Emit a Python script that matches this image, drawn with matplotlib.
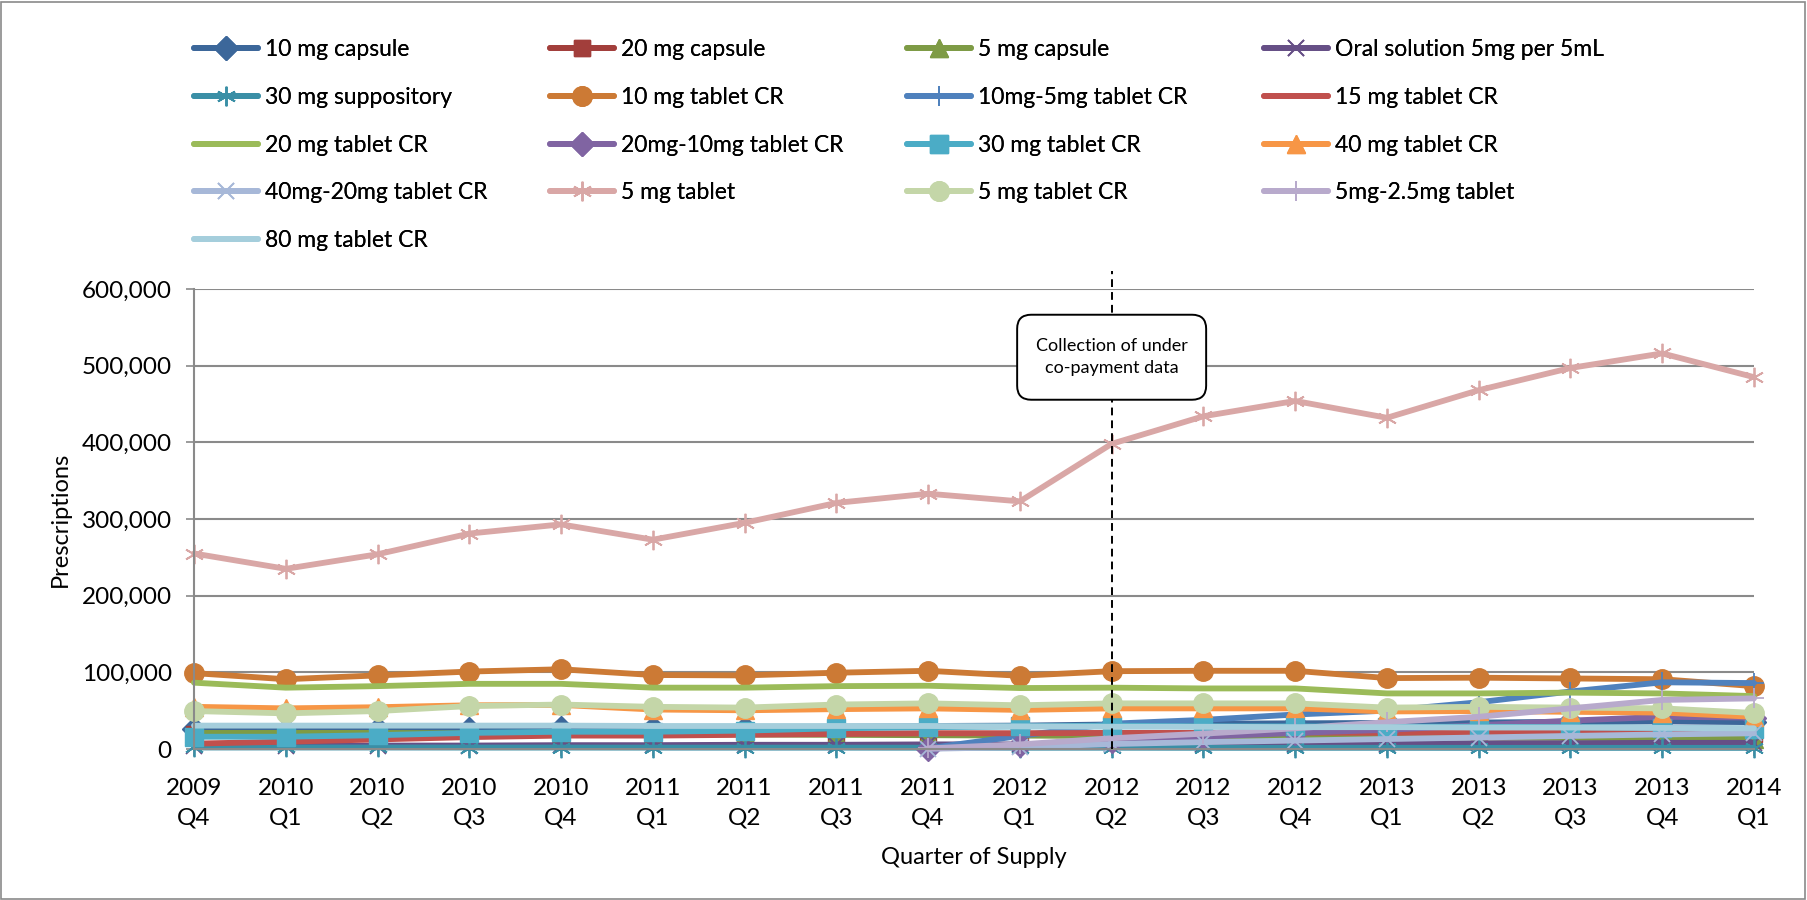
import numpy as np
import matplotlib
matplotlib.use("Agg")
import matplotlib.pyplot as plt
from matplotlib.lines import Line2D
from matplotlib.patches import FancyBboxPatch, Rectangle
from matplotlib.transforms import IdentityTransform
from matplotlib.ticker import FuncFormatter, MultipleLocator

plt.rcParams["font.family"] = ["Lato", "DejaVu Sans"]

nan = np.nan

quarters = ["2009\nQ4", "2010\nQ1", "2010\nQ2", "2010\nQ3", "2010\nQ4",
            "2011\nQ1", "2011\nQ2", "2011\nQ3", "2011\nQ4",
            "2012\nQ1", "2012\nQ2", "2012\nQ3", "2012\nQ4",
            "2013\nQ1", "2013\nQ2", "2013\nQ3", "2013\nQ4", "2014\nQ1"]

ten_mg_capsule = [26000, 25000, 25500, 26500, 27500, 27500, 28000, 29000, 30000,
                  30500, 32000, 33000, 33500, 34000, 34500, 35500, 36000, 35000]
twenty_mg_capsule = [19000, 18500, 19000, 19500, 19500, 19500, 20000, 20000, 20000,
                     20000, 20500, 20500, 20500, 20000, 20000, 20000, 20000, 19500]
five_mg_capsule = [21000, 21000, 21000, 20500, 20000, 19500, 19000, 18500, 18000,
                   17500, 17000, 16500, 16000, 15500, 15000, 14500, 14000, 13500]
oral_solution = [4000, 4000, 4500, 4500, 5000, 5000, 5500, 5500, 6000,
                 6000, 6500, 6500, 7000, 7000, 7500, 7500, 8000, 8000]
suppository_30mg = [2000, 2000, 2000, 1900, 1900, 1800, 1800, 1800, 1700,
                    1700, 1700, 1600, 1600, 1600, 1500, 1500, 1500, 1500]
ten_mg_tablet_cr = [99000, 91000, 96000, 101000, 104000, 96500, 96000, 99500, 102000,
                    95500, 101500, 102000, 102000, 92500, 93000, 92000, 91000, 82000]
ten_five_tablet_cr = [nan, nan, nan, nan, nan, nan, nan, nan, 1000,
                      17000, 33000, 38000, 45000, 50000, 61000, 75000, 87000, 86000]
fifteen_mg_tablet_cr = [7000, 9500, 12500, 15500, 17500, 17500, 18500, 19500, 20500,
                        20500, 21000, 21000, 21500, 21000, 21500, 22000, 22000, 21500]
twenty_mg_tablet_cr = [86500, 80000, 82000, 85000, 85000, 80000, 80000, 82000, 82500,
                       79500, 80000, 79000, 79000, 72500, 72500, 73500, 72500, 69000]
twenty_ten_tablet_cr = [nan, nan, nan, nan, nan, nan, nan, nan, 500,
                        5000, 11000, 16000, 21000, 25000, 31000, 37000, 42000, 41000]
thirty_mg_tablet_cr = [16000, 16000, 18000, 21000, 22500, 22500, 24000, 27000, 28500,
                       29500, 30500, 29500, 29500, 29000, 29000, 28500, 27500, 26500]
forty_mg_tablet_cr = [55000, 53000, 54500, 57000, 57500, 51500, 50500, 52000, 53000,
                      51000, 53000, 53000, 53000, 49000, 49500, 48500, 47500, 42000]
forty_twenty_tablet_cr = [nan, nan, nan, nan, nan, nan, nan, nan, 300,
                          2500, 6500, 9000, 11000, 13000, 15000, 17000, 19000, 20500]
five_mg_tablet = [255000, 235000, 254000, 281000, 293000, 273000, 295000, 321000, 333000,
                  323000, 398000, 434000, 454000, 432000, 468000, 497000, 516000, 485000]
five_mg_tablet_cr = [49500, 46500, 49500, 56000, 58000, 55000, 54000, 58000, 59500,
                     57000, 59500, 59500, 59500, 54000, 55000, 54000, 53000, 47000]
five_two_tablet = [nan, nan, nan, nan, nan, nan, nan, nan, 800,
                   6000, 14000, 20000, 27000, 35000, 42000, 53000, 64000, 66000]
eighty_mg_tablet_cr = [30500, 30500, 30500, 30500, 30500, 30000, 30000, 30000, 30000,
                       29500, 29000, 29000, 28500, 28500, 28000, 28000, 27500, 27000]

series_names = ["10 mg capsule", "20 mg capsule", "5 mg capsule", "Oral solution 5mg per 5mL",
                "30 mg suppository", "10 mg tablet CR", "10mg-5mg tablet CR", "15 mg tablet CR",
                "20 mg tablet CR", "20mg-10mg tablet CR", "30 mg tablet CR", "40 mg tablet CR",
                "40mg-20mg tablet CR", "5 mg tablet", "5 mg tablet CR", "5mg-2.5mg tablet",
                "80 mg tablet CR"]
series_values = [ten_mg_capsule, twenty_mg_capsule, five_mg_capsule, oral_solution,
                 suppository_30mg, ten_mg_tablet_cr, ten_five_tablet_cr, fifteen_mg_tablet_cr,
                 twenty_mg_tablet_cr, twenty_ten_tablet_cr, thirty_mg_tablet_cr, forty_mg_tablet_cr,
                 forty_twenty_tablet_cr, five_mg_tablet, five_mg_tablet_cr, five_two_tablet,
                 eighty_mg_tablet_cr]

ASTER = (6, 2, 0)
# colour, marker, marker size, marker edge width
styles = [
    ("#3C679A", "D", 12, 1.0),
    ("#A23E3B", "s", 12, 1.0),
    ("#7E9B45", "^", 13, 1.0),
    ("#664F86", "x", 11, 1.3),
    ("#3A8FA6", ASTER, 14, 1.3),
    ("#CC7A35", "o", 14, 1.0),
    ("#4F81BD", "+", 14, 1.3),
    ("#C0504D", None, 0, 0),
    ("#9BBB59", None, 0, 0),
    ("#8064A2", "D", 12, 1.0),
    ("#4BACC6", "s", 13, 1.0),
    ("#F79646", "^", 13, 1.0),
    ("#A7B8D8", "x", 11, 1.3),
    ("#D9A7A6", ASTER, 14, 1.3),
    ("#C4D6A8", "o", 14, 1.0),
    ("#B8AACC", "+", 14, 1.3),
    ("#A5CEDC", None, 0, 0),
]

W, H, DPI = 1807, 900, 100
fig = plt.figure(figsize=(W / DPI, H / DPI), dpi=DPI)
fig.patch.set_facecolor("white")

# plot area in pixels: left/right at first/last category, bottom at 0, top at 600,000
px_left, px_right, px_bottom, px_top = 194, 1754, 749, 289
ax = fig.add_axes([px_left / W, 1 - px_bottom / H,
                   (px_right - px_left) / W, (px_bottom - px_top) / H])

x = np.arange(len(quarters))
LW = 4.2
handles = []
for name, vals, (col, mk, ms, mew) in zip(series_names, series_values, styles):
    kw = dict(color=col, lw=LW, solid_capstyle="round", solid_joinstyle="round")
    if mk is not None:
        kw.update(marker=mk, markersize=ms, markerfacecolor=col,
                  markeredgecolor=col, markeredgewidth=mew)
    ax.plot(x, vals, clip_on=False, **kw)
    handles.append(Line2D([], [], label=name, **kw))

ax.set_xlim(0, len(quarters) - 1)
ax.set_ylim(0, 600000)
ax.yaxis.set_major_locator(MultipleLocator(100000))
ax.yaxis.set_major_formatter(FuncFormatter(lambda v, p: f"{v:,.0f}"))
ax.set_xticks(x)
ax.set_xticklabels(quarters, linespacing=1.5)

grid_col = "#8A8A8A"
ax.yaxis.grid(True, color=grid_col, lw=1.5)
ax.set_axisbelow(True)
for s in ["top", "right"]:
    ax.spines[s].set_visible(False)
for s in ["left", "bottom"]:
    ax.spines[s].set_color(grid_col)
    ax.spines[s].set_linewidth(1.5)
ax.tick_params(axis="y", length=6, width=1.2, color=grid_col, labelsize=17.5, pad=10)
ax.tick_params(axis="x", length=5, width=1.2, color=grid_col, labelsize=17.5, pad=16)

ax.set_ylabel("Prescriptions", fontsize=17, labelpad=8)
ax.set_xlabel("Quarter of Supply", fontsize=17, labelpad=13)

# marker for the start of under co-payment data collection
event_idx = quarters.index("2012\nQ2")
ax.plot([event_idx, event_idx], [0, 623000], color="black", lw=1.4,
        ls=(0, (4, 2.6)), clip_on=False, zorder=20)

cx, cy = ax.transData.transform((event_idx, 511000))
bw, bh = 189, 85
box = FancyBboxPatch((cx - bw / 2, cy - bh / 2), bw, bh,
                     boxstyle="round,pad=0,rounding_size=14",
                     transform=IdentityTransform(), facecolor="white",
                     edgecolor="black", lw=1.4, zorder=25)
fig.add_artist(box)
fig.text(cx / W, cy / H, "Collection of under\nco-payment data", ha="center", va="center",
         fontsize=13, linespacing=1.5, zorder=26)

# legend laid out as four equal-width columns, filled row by row
col_x = [194, 550, 907, 1264]
ncols = 4
for c in range(ncols):
    hs = handles[c::ncols]
    leg = fig.legend(handles=hs, loc="upper left",
                     bbox_to_anchor=(col_x[c] / W, 1 - 39 / H),
                     bbox_transform=fig.transFigure, frameon=False,
                     fontsize=16.5, handlelength=2.8, handletextpad=0.3,
                     labelspacing=1.17, borderpad=0, borderaxespad=0)
    fig.add_artist(leg)

fig.add_artist(Rectangle((1 / W, 1 / H), (W - 3) / W, (H - 3) / H,
                         transform=fig.transFigure, fill=False,
                         edgecolor="#8A8A8A", lw=1.2))

fig.savefig("out.png", dpi=DPI, facecolor="white")
